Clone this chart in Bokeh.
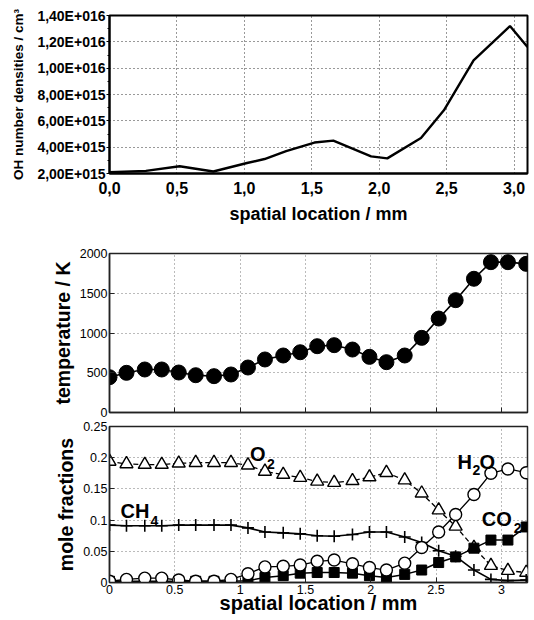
from bokeh.plotting import figure
from bokeh.layouts import column
from bokeh.models import Range1d, FixedTicker, CustomJSTickFormatter, CustomLabelingPolicy
from bokeh.core.properties import value
from bokeh.embed import file_html
from bokeh.resources import INLINE

FONT = "Liberation Sans"

# ---------------- data: OH number densities ----------------
oh_x = [0.00, 0.27, 0.52, 0.77, 1.02, 1.15, 1.31, 1.52, 1.66, 1.94, 2.06, 2.31, 2.48, 2.70, 2.97, 3.10]
oh_y = [2.10e15, 2.20e15, 2.55e15, 2.15e15, 2.80e15, 3.10e15, 3.70e15, 4.35e15, 4.50e15,
        3.30e15, 3.15e15, 4.70e15, 6.80e15, 1.06e16, 1.32e16, 1.16e16]
oh_xticks = [0.0, 0.5, 1.0, 1.5, 2.0, 2.5, 3.0]
oh_xlabels = ["0,0", "0,5", "1,0", "1,5", "2,0", "2,5", "3,0"]
oh_yticks = [2e15, 4e15, 6e15, 8e15, 1e16, 1.2e16, 1.4e16]
oh_ylabels = ["2,00E+015", "4,00E+015", "6,00E+015", "8,00E+015", "1,00E+016", "1,20E+016", "1,40E+016"]

# ---------------- data: temperature & mole fractions ----------------
pos = [0.00, 0.13, 0.27, 0.40, 0.53, 0.66, 0.80, 0.93, 1.06, 1.19, 1.33, 1.46, 1.59,
       1.72, 1.86, 1.99, 2.12, 2.26, 2.39, 2.52, 2.65, 2.79, 2.92, 3.05, 3.19]
temperature = [444, 499, 541, 541, 503, 469, 457, 478, 566, 667, 717, 758, 834,
               847, 792, 700, 633, 717, 939, 1182, 1413, 1682, 1891, 1891, 1870]
o2 = [0.194, 0.190, 0.189, 0.189, 0.191, 0.192, 0.192, 0.192, 0.188, 0.178, 0.173, 0.168, 0.162,
      0.160, 0.163, 0.169, 0.176, 0.164, 0.143, 0.116, 0.090, 0.056, 0.027, 0.019, 0.016]
ch4 = [0.092, 0.091, 0.091, 0.091, 0.092, 0.092, 0.092, 0.092, 0.0875, 0.081, 0.0796, 0.078, 0.075,
       0.074, 0.077, 0.081, 0.081, 0.073, 0.064, 0.051, 0.042, 0.020, 0.005, 0.003, 0.004]
h2o = [0.002, 0.005, 0.007, 0.007, 0.004, 0.002, 0.002, 0.005, 0.014, 0.025, 0.026, 0.028, 0.034,
       0.036, 0.030, 0.024, 0.020, 0.031, 0.056, 0.081, 0.109, 0.141, 0.175, 0.182, 0.176]
co2 = [0.002, 0.002, 0.002, 0.002, 0.002, 0.002, 0.002, 0.002, 0.003, 0.008, 0.011, 0.015, 0.016,
       0.016, 0.015, 0.011, 0.008, 0.013, 0.020, 0.032, 0.041, 0.055, 0.068, 0.068, 0.089]

t_ticks = [0, 500, 1000, 1500, 2000]
t_labels = ["0", "500", "1000", "1500", "2000"]
mf_xticks = [0.0, 0.5, 1.0, 1.5, 2.0, 2.5, 3.0]
mf_xlabels = ["0", "0.5", "1", "1.5", "2", "2.5", "3"]
mf_yticks = [0.0, 0.05, 0.10, 0.15, 0.20, 0.25]
mf_ylabels = ["0", "0.05", "0.1", "0.15", "0.2", "0.25"]

species_big = ["O", "CH", "H", "O", "CO"]
species_big_x = [1.076, 0.084, 2.664, 2.832, 2.850]
species_big_y = [0.2057, 0.114, 0.193, 0.193, 0.101]
species_sub = ["2", "4", "2", "2"]
species_sub_x = [1.206, 0.313, 2.779, 3.095]
species_sub_y = [0.190, 0.098, 0.180, 0.088]


def fmt(tick_values, tick_texts):
    return CustomJSTickFormatter(
        args=dict(tv=tick_values, tl=tick_texts),
        code="""
        for (let i = 0; i < tv.length; i++) {
            if (Math.abs(tv[i] - tick) <= 1e-9 * Math.max(1, Math.abs(tv[i]))) return tl[i];
        }
        return '';
        """)


W = 532

# ---------------- top figure ----------------
f1 = figure(width=W, height=246, output_backend="svg", toolbar_location=None,
            x_range=Range1d(0, 3.1), y_range=Range1d(2e15, 1.4e16),
            min_border_left=109, min_border_right=5, min_border_top=15, min_border_bottom=73)
f1.line(oh_x, oh_y, line_color="black", line_width=2.4)
f1.outline_line_color = "black"
f1.outline_line_width = 2
f1.xaxis.ticker = FixedTicker(ticks=oh_xticks)
f1.yaxis.ticker = FixedTicker(ticks=oh_yticks, minor_ticks=[3e15, 5e15, 7e15, 9e15, 1.1e16, 1.3e16])
f1.xaxis.formatter = fmt(oh_xticks, oh_xlabels)
f1.yaxis.formatter = fmt(oh_yticks, oh_ylabels)
for ax in (f1.xaxis[0], f1.yaxis[0]):
    ax.axis_line_color = "black"
    ax.axis_line_width = 2
    ax.major_tick_line_color = "black"
    ax.minor_tick_line_color = "black"
    ax.major_label_text_font = FONT
    ax.major_label_text_font_style = "bold"
    ax.major_label_text_color = "black"
    ax.axis_label_text_font = FONT
    ax.axis_label_text_font_style = "bold"
    ax.axis_label_text_color = "black"
f1.xaxis.major_tick_in = 0
f1.xaxis.major_tick_out = 0
f1.xaxis.minor_tick_out = 0
f1.xaxis.minor_tick_in = 0
f1.xaxis.major_label_text_font_size = "16px"
f1.xaxis.major_label_standoff = 8
f1.xaxis.axis_label = "spatial location / mm"
f1.xaxis.axis_label_text_font_size = "18px"
f1.xaxis.axis_label_standoff = 7
f1.yaxis.major_tick_in = 0
f1.yaxis.major_tick_out = 3
f1.yaxis.minor_tick_in = 0
f1.yaxis.minor_tick_out = 2
f1.yaxis.major_label_text_font_size = "14px"
f1.yaxis.major_label_standoff = 1
f1.yaxis.axis_label = "OH number densities / cm³"
f1.yaxis.axis_label_text_font_size = "13.5px"
f1.yaxis.axis_label_standoff = 8
f1.xgrid.grid_line_color = "black"
f1.ygrid.grid_line_color = "black"
f1.xgrid.grid_line_dash = "1 3"
f1.ygrid.grid_line_dash = "1 3"
f1.xgrid.grid_line_alpha = 0.8
f1.ygrid.grid_line_alpha = 0.8


def style_lower(f, xticks, xlabels, yticks, ylabels, ylabel, show_xlabels):
    f.outline_line_color = "#222222"
    f.outline_line_width = 1.5
    f.xaxis.ticker = FixedTicker(ticks=xticks)
    f.yaxis.ticker = FixedTicker(ticks=yticks)
    f.xaxis.formatter = fmt(xticks, xlabels)
    f.yaxis.formatter = fmt(yticks, ylabels)
    for ax in (f.xaxis[0], f.yaxis[0]):
        ax.axis_line_color = "#222222"
        ax.axis_line_width = 1.5
        ax.major_tick_in = 5
        ax.major_tick_out = 0
        ax.minor_tick_in = 0
        ax.minor_tick_out = 0
        ax.major_tick_line_color = "#222222"
        ax.major_label_text_font = FONT
        ax.major_label_text_color = "black"
        ax.major_label_text_font_size = "12.5px"
        ax.axis_label_text_font = FONT
        ax.axis_label_text_font_style = "bold"
        ax.axis_label_text_color = "black"
    f.yaxis.major_label_standoff = 2
    f.yaxis.axis_label = ylabel
    f.yaxis.axis_label_text_font_size = "19.5px"
    f.yaxis.axis_label_standoff = 3
    if show_xlabels:
        f.xaxis.major_label_standoff = 2
    else:
        f.xaxis.major_label_text_font_size = "1px"
        f.xaxis.major_label_standoff = 0
        f.xaxis.major_label_policy = CustomLabelingPolicy(
            code="for (const i of indices) { indices.unset(i) }\nreturn indices")
    for g in (f.xgrid[0], f.ygrid[0]):
        g.grid_line_color = "#777777"
        g.grid_line_dash = "1 3"
        g.grid_line_width = 1


# ---------------- middle figure ----------------
f2 = figure(width=W, height=173, output_backend="svg", toolbar_location=None,
            x_range=Range1d(0, 3.2), y_range=Range1d(0, 2000),
            min_border_left=109, min_border_right=5, min_border_top=7, min_border_bottom=7)
style_lower(f2, mf_xticks, mf_xlabels, t_ticks, t_labels, "temperature / K", False)
f2.line(pos, temperature, line_color="black", line_width=1.6)
f2.scatter(pos, temperature, marker="circle", size=15, fill_color="black", line_color="black")

# ---------------- bottom figure ----------------
f3 = figure(width=W, height=199, output_backend="svg", toolbar_location=None,
            x_range=Range1d(0, 3.2), y_range=Range1d(0, 0.25),
            min_border_left=109, min_border_right=5, min_border_top=7, min_border_bottom=36)
style_lower(f3, mf_xticks, mf_xlabels, mf_yticks, mf_ylabels, "mole fractions", True)
f3.xaxis.axis_label = "spatial location / mm"
f3.xaxis.axis_label_text_font_size = "20px"
f3.xaxis.axis_label_standoff = -5

f3.line(pos, o2, line_color="black", line_width=1.3, line_dash="5 3")
f3.scatter(pos, o2, marker="triangle", size=13, fill_color="white", line_color="black", line_width=1.4)

f3.line(pos, ch4, line_color="black", line_width=1.6)
f3.scatter(pos, ch4, marker="cross", size=12, line_color="black", line_width=1.6)

f3.line(pos, co2, line_color="black", line_width=1.5)
f3.scatter(pos, co2, marker="square", size=10, fill_color="black", line_color="black")

f3.line(pos, h2o, line_color="black", line_width=1.3)
f3.scatter(pos, h2o, marker="circle", size=12, fill_color="white", line_color="black", line_width=1.4)

f3.text(x=species_big_x, y=species_big_y, text=species_big, text_font=value(FONT),
        text_font_style="bold", text_font_size="20px", text_color="black",
        text_baseline="alphabetic", text_align="left")
f3.text(x=species_sub_x, y=species_sub_y, text=species_sub, text_font=value(FONT),
        text_font_style="bold", text_font_size="14px", text_color="black",
        text_baseline="alphabetic", text_align="left")

layout = column(f1, f2, f3, spacing=0)
open("out.html", "w").write(file_html(layout, INLINE))
